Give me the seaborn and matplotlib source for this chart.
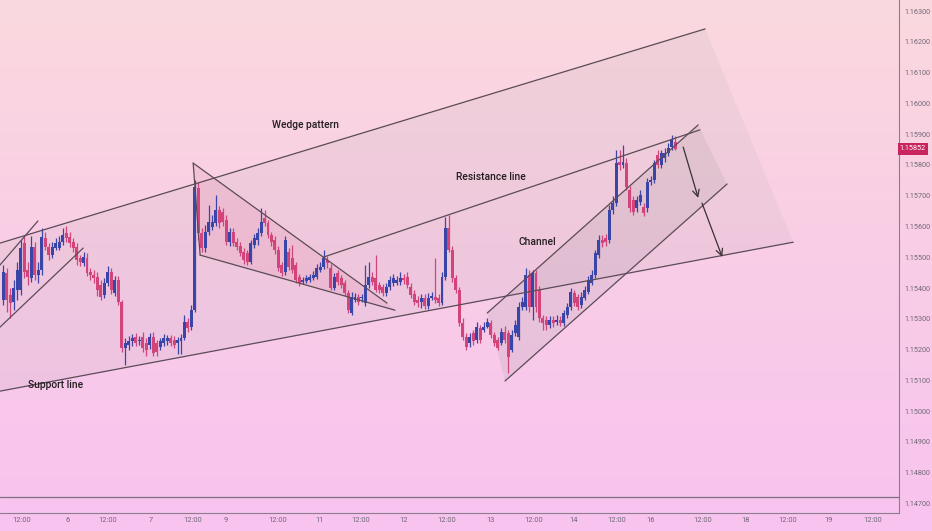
import numpy as np
import pandas as pd
import seaborn as sns
import matplotlib.pyplot as plt
from matplotlib.colors import LinearSegmentedColormap

# 1. 데이터 (hourly EURUSD-style candles)
opens = [
    1.15361, 1.15448, 1.15377, 1.15354, 1.15393, 1.15393, 1.15546, 1.15458, 1.15432, 1.15533,
    1.15442, 1.15458, 1.15562, 1.15533, 1.15507, 1.15530, 1.15530, 1.15549, 1.15578, 1.15565,
    1.15549, 1.15533, 1.15497, 1.15481, 1.15497, 1.15452, 1.15442, 1.15435, 1.15410, 1.15377,
    1.15416, 1.15452, 1.15383, 1.15426, 1.15354, 1.15205, 1.15215, 1.15228, 1.15241, 1.15228,
    1.15241, 1.15221, 1.15215, 1.15241, 1.15221, 1.15208, 1.15221, 1.15228, 1.15237, 1.15231,
    1.15221, 1.15228, 1.15237, 1.15289, 1.15273, 1.15328, 1.15725, 1.15578, 1.15530, 1.15582,
    1.15598, 1.15611, 1.15653, 1.15647, 1.15621, 1.15549, 1.15582, 1.15549, 1.15537, 1.15517,
    1.15513, 1.15484, 1.15540, 1.15556, 1.15578, 1.15628, 1.15611, 1.15572, 1.15556, 1.15523,
    1.15475, 1.15452, 1.15517, 1.15497, 1.15475, 1.15435, 1.15419, 1.15423, 1.15426, 1.15432,
    1.15435, 1.15458, 1.15468, 1.15491, 1.15465, 1.15400, 1.15448, 1.15432, 1.15416, 1.15383,
    1.15318, 1.15361, 1.15371, 1.15367, 1.15351, 1.15410, 1.15435, 1.15432, 1.15410, 1.15403,
    1.15383, 1.15403, 1.15416, 1.15416, 1.15419, 1.15432, 1.15435, 1.15403, 1.15380, 1.15361,
    1.15354, 1.15367, 1.15341, 1.15367, 1.15371, 1.15367, 1.15351, 1.15435, 1.15595, 1.15523,
    1.15432, 1.15393, 1.15286, 1.15241, 1.15221, 1.15254, 1.15231, 1.15270, 1.15263, 1.15273,
    1.15286, 1.15247, 1.15231, 1.15221, 1.15257, 1.15254, 1.15198, 1.15254, 1.15241, 1.15338,
    1.15338, 1.15442, 1.15338, 1.15448, 1.15393, 1.15302, 1.15296, 1.15280, 1.15296, 1.15289,
    1.15296, 1.15286, 1.15312, 1.15338, 1.15383, 1.15371, 1.15345, 1.15367, 1.15387, 1.15416,
    1.15442, 1.15507, 1.15556, 1.15562, 1.15556, 1.15653, 1.15676, 1.15809, 1.15800, 1.15806,
    1.15718, 1.15686, 1.15660, 1.15680, 1.15663, 1.15660, 1.15744, 1.15751, 1.15832, 1.15800,
    1.15822, 1.15839, 1.15858, 1.15875,
]
closes = [
    1.15452, 1.15361, 1.15351, 1.15400, 1.15458, 1.15530, 1.15452, 1.15435, 1.15533, 1.15442,
    1.15458, 1.15565, 1.15533, 1.15507, 1.15533, 1.15546, 1.15549, 1.15572, 1.15562, 1.15546,
    1.15530, 1.15491, 1.15484, 1.15500, 1.15448, 1.15442, 1.15432, 1.15393, 1.15371, 1.15416,
    1.15452, 1.15393, 1.15426, 1.15354, 1.15205, 1.15221, 1.15228, 1.15237, 1.15221, 1.15231,
    1.15205, 1.15198, 1.15241, 1.15188, 1.15192, 1.15228, 1.15237, 1.15237, 1.15221, 1.15215,
    1.15231, 1.15237, 1.15289, 1.15270, 1.15328, 1.15728, 1.15578, 1.15530, 1.15582, 1.15614,
    1.15614, 1.15653, 1.15611, 1.15614, 1.15549, 1.15582, 1.15546, 1.15533, 1.15513, 1.15491,
    1.15484, 1.15546, 1.15562, 1.15578, 1.15614, 1.15611, 1.15572, 1.15549, 1.15523, 1.15465,
    1.15448, 1.15556, 1.15468, 1.15458, 1.15426, 1.15416, 1.15426, 1.15432, 1.15435, 1.15442,
    1.15465, 1.15468, 1.15497, 1.15481, 1.15400, 1.15435, 1.15419, 1.15410, 1.15383, 1.15328,
    1.15371, 1.15371, 1.15354, 1.15371, 1.15410, 1.15435, 1.15419, 1.15393, 1.15393, 1.15383,
    1.15403, 1.15426, 1.15432, 1.15426, 1.15432, 1.15426, 1.15410, 1.15377, 1.15354, 1.15351,
    1.15367, 1.15341, 1.15367, 1.15374, 1.15361, 1.15351, 1.15435, 1.15595, 1.15523, 1.15432,
    1.15393, 1.15286, 1.15241, 1.15208, 1.15241, 1.15228, 1.15273, 1.15231, 1.15273, 1.15289,
    1.15247, 1.15221, 1.15205, 1.15257, 1.15231, 1.15175, 1.15247, 1.15280, 1.15338, 1.15354,
    1.15442, 1.15338, 1.15448, 1.15338, 1.15302, 1.15286, 1.15280, 1.15296, 1.15286, 1.15296,
    1.15286, 1.15318, 1.15338, 1.15387, 1.15351, 1.15338, 1.15371, 1.15393, 1.15426, 1.15442,
    1.15513, 1.15556, 1.15546, 1.15549, 1.15653, 1.15676, 1.15806, 1.15800, 1.15809, 1.15728,
    1.15660, 1.15647, 1.15686, 1.15702, 1.15644, 1.15744, 1.15751, 1.15806, 1.15800, 1.15839,
    1.15839, 1.15855, 1.15881, 1.15852,
]
highs = [
    1.15475, 1.15465, 1.15400, 1.15426, 1.15484, 1.15556, 1.15569, 1.15484, 1.15569, 1.15549,
    1.15484, 1.15595, 1.15582, 1.15546, 1.15549, 1.15562, 1.15569, 1.15595, 1.15602, 1.15582,
    1.15562, 1.15546, 1.15507, 1.15517, 1.15513, 1.15465, 1.15458, 1.15452, 1.15426, 1.15432,
    1.15472, 1.15465, 1.15439, 1.15439, 1.15361, 1.15237, 1.15244, 1.15250, 1.15254, 1.15244,
    1.15257, 1.15237, 1.15254, 1.15257, 1.15231, 1.15237, 1.15250, 1.15247, 1.15247, 1.15244,
    1.15241, 1.15250, 1.15312, 1.15302, 1.15345, 1.15751, 1.15744, 1.15595, 1.15605, 1.15670,
    1.15637, 1.15702, 1.15666, 1.15660, 1.15637, 1.15595, 1.15595, 1.15562, 1.15549, 1.15530,
    1.15523, 1.15556, 1.15575, 1.15595, 1.15660, 1.15653, 1.15621, 1.15582, 1.15569, 1.15537,
    1.15484, 1.15569, 1.15530, 1.15540, 1.15484, 1.15445, 1.15435, 1.15442, 1.15445, 1.15455,
    1.15478, 1.15484, 1.15523, 1.15504, 1.15478, 1.15448, 1.15458, 1.15442, 1.15426, 1.15393,
    1.15387, 1.15383, 1.15380, 1.15380, 1.15475, 1.15484, 1.15452, 1.15507, 1.15419, 1.15413,
    1.15416, 1.15439, 1.15445, 1.15439, 1.15452, 1.15445, 1.15452, 1.15416, 1.15393, 1.15374,
    1.15380, 1.15380, 1.15383, 1.15387, 1.15497, 1.15380, 1.15452, 1.15631, 1.15637, 1.15537,
    1.15442, 1.15403, 1.15302, 1.15254, 1.15254, 1.15263, 1.15289, 1.15280, 1.15289, 1.15302,
    1.15296, 1.15257, 1.15241, 1.15270, 1.15277, 1.15263, 1.15263, 1.15296, 1.15354, 1.15371,
    1.15465, 1.15458, 1.15458, 1.15458, 1.15407, 1.15312, 1.15309, 1.15309, 1.15309, 1.15312,
    1.15309, 1.15328, 1.15351, 1.15400, 1.15393, 1.15380, 1.15387, 1.15407, 1.15439, 1.15458,
    1.15523, 1.15572, 1.15572, 1.15575, 1.15670, 1.15699, 1.15848, 1.15848, 1.15865, 1.15822,
    1.15731, 1.15699, 1.15699, 1.15718, 1.15676, 1.15757, 1.15764, 1.15816, 1.15848, 1.15848,
    1.15855, 1.15871, 1.15897, 1.15894,
]
lows = [
    1.15345, 1.15322, 1.15302, 1.15328, 1.15361, 1.15377, 1.15432, 1.15410, 1.15419, 1.15426,
    1.15416, 1.15442, 1.15523, 1.15491, 1.15497, 1.15523, 1.15523, 1.15540, 1.15549, 1.15533,
    1.15517, 1.15475, 1.15472, 1.15472, 1.15439, 1.15426, 1.15416, 1.15374, 1.15361, 1.15367,
    1.15407, 1.15380, 1.15374, 1.15345, 1.15192, 1.15150, 1.15198, 1.15212, 1.15212, 1.15215,
    1.15192, 1.15179, 1.15202, 1.15179, 1.15179, 1.15198, 1.15212, 1.15215, 1.15212, 1.15205,
    1.15185, 1.15185, 1.15231, 1.15257, 1.15263, 1.15322, 1.15556, 1.15517, 1.15517, 1.15572,
    1.15588, 1.15602, 1.15595, 1.15602, 1.15540, 1.15537, 1.15537, 1.15523, 1.15504, 1.15478,
    1.15475, 1.15478, 1.15530, 1.15540, 1.15569, 1.15602, 1.15562, 1.15537, 1.15510, 1.15455,
    1.15439, 1.15442, 1.15458, 1.15448, 1.15416, 1.15407, 1.15413, 1.15416, 1.15419, 1.15426,
    1.15429, 1.15452, 1.15461, 1.15465, 1.15393, 1.15393, 1.15410, 1.15400, 1.15374, 1.15318,
    1.15312, 1.15354, 1.15345, 1.15354, 1.15341, 1.15400, 1.15410, 1.15387, 1.15383, 1.15374,
    1.15374, 1.15393, 1.15407, 1.15410, 1.15410, 1.15413, 1.15400, 1.15367, 1.15345, 1.15338,
    1.15335, 1.15331, 1.15331, 1.15361, 1.15351, 1.15341, 1.15345, 1.15426, 1.15517, 1.15419,
    1.15383, 1.15277, 1.15231, 1.15198, 1.15208, 1.15215, 1.15221, 1.15221, 1.15257, 1.15270,
    1.15237, 1.15212, 1.15198, 1.15215, 1.15221, 1.15123, 1.15192, 1.15244, 1.15231, 1.15328,
    1.15328, 1.15322, 1.15296, 1.15322, 1.15289, 1.15263, 1.15263, 1.15270, 1.15273, 1.15280,
    1.15277, 1.15277, 1.15302, 1.15328, 1.15341, 1.15328, 1.15335, 1.15361, 1.15380, 1.15410,
    1.15432, 1.15497, 1.15533, 1.15537, 1.15546, 1.15640, 1.15666, 1.15783, 1.15790, 1.15718,
    1.15647, 1.15637, 1.15647, 1.15670, 1.15634, 1.15647, 1.15735, 1.15741, 1.15790, 1.15790,
    1.15809, 1.15829, 1.15848, 1.15848,
]

# x axis labels (bar index of each label)
tick_labels = ["12:00", "6", "12:00", "7", "12:00", "9", "12:00", "11", "12:00", "12", "12:00",
               "13", "12:00", "14", "12:00", "16", "12:00", "18", "12:00", "19", "12:00"]
tick_pos = [6.3, 19.3, 31.0, 43.4, 55.5, 64.9, 79.9, 91.7, 103.7, 116.1, 128.2,
            140.8, 153.4, 164.9, 177.3, 186.8, 202.0, 214.1, 226.4, 238.2, 250.6]
price_ticks = [1.147, 1.148, 1.149, 1.150, 1.151, 1.152, 1.153, 1.154, 1.155,
               1.156, 1.157, 1.158, 1.159, 1.160, 1.161, 1.162, 1.163]
last_price = 1.15852

# 추세선 (bar index, price)
trend_lines = {
    "wedge_top": [(0, 1.15546), (202.6, 1.16242)],
    "support": [(0, 1.15065), (227.9, 1.15549)],
    "resistance": [(92.8, 1.15500), (201.1, 1.15914)],
    "flag_top": [(55.5, 1.15806), (111.2, 1.15351)],
    "flag_bottom": [(57.5, 1.15507), (113.5, 1.15328)],
    "flag_side": [(55.5, 1.15806), (57.5, 1.15507)],
    "left_top": [(0, 1.15475), (10.9, 1.15618)],
    "left_bottom": [(0, 1.15273), (23.9, 1.15530)],
    "chan_top": [(140.0, 1.15319), (200.6, 1.15930)],
    "chan_bottom": [(145.1, 1.15098), (208.9, 1.15738)],
}
wedge_area = [(0, 1.15546), (202.6, 1.16242), (227.9, 1.15549), (0, 1.15065)]
channel_area = [(140.0, 1.15319), (200.6, 1.15930), (208.9, 1.15738), (145.1, 1.15098)]
flag_area = [(55.5, 1.15806), (111.2, 1.15351), (113.5, 1.15328), (57.5, 1.15507)]
arrows = [((196.3, 1.15858), (200.6, 1.15693)), ((201.7, 1.15676), (207.5, 1.15501))]
notes = [("Wedge pattern", 78.2, 1.15930), ("Resistance line", 131.0, 1.15761),
         ("Channel", 149.1, 1.15550), ("Support line", 8.0, 1.15085)]

df = pd.DataFrame({"open": opens, "high": highs, "low": lows, "close": closes})
df["t"] = np.arange(1, len(df) + 1)
df["up"] = df["close"] >= df["open"]

lines_df = pd.DataFrame(
    [(name, x, y) for name, pts in trend_lines.items() for x, y in pts],
    columns=["seg", "x", "price"],
)

# 2. 그리기
sns.set_theme(style="white")
plt.rcParams["font.family"] = ["Roboto", "DejaVu Sans"]

fig = plt.figure(figsize=(9.32, 5.31), dpi=100)

bg = fig.add_axes([0, 0, 1, 1], zorder=0)
cmap = LinearSegmentedColormap.from_list("bg", ["#fbd9df", "#f9cde6", "#f8c3f0"])
bg.imshow(np.linspace(0, 1, 256).reshape(-1, 1), aspect="auto", cmap=cmap,
          extent=[0, 1, 0, 1], origin="upper")
bg.axis("off")

ax = fig.add_axes([0, 18 / 531, 899 / 932, 513 / 531], zorder=1)
ax.patch.set_alpha(0)

# shaded areas
ax.fill(*zip(*wedge_area), color="#9a9a9a", alpha=0.10, lw=0)
ax.fill(*zip(*channel_area), color="#8c8c8c", alpha=0.14, lw=0)
ax.fill(*zip(*flag_area), color="#e07898", alpha=0.16, lw=0)

# candles
bull, bear = "#3a45a8", "#d2447a"
colors = np.where(df["up"], bull, bear)
ax.vlines(df["t"], df["low"], df["high"], colors=colors, lw=0.9, zorder=3)
body = (df["close"] - df["open"]).abs().clip(lower=0.00003)
ax.bar(df["t"], body, bottom=df[["open", "close"]].min(axis=1), width=0.85,
       color=colors, lw=0, zorder=4)

sns.lineplot(data=lines_df, x="x", y="price", units="seg", estimator=None, sort=False,
             color="#5b4b57", lw=0.9, ax=ax, zorder=5)

for (x0, y0), (x1, y1) in arrows:
    ax.annotate("", xy=(x1, y1), xytext=(x0, y0), zorder=6,
                arrowprops=dict(arrowstyle="->", color="#3a3036", lw=0.9, mutation_scale=12,
                                shrinkA=0, shrinkB=0))

for txt, x, y in notes:
    ax.text(x, y, txt, fontsize=7.4, fontweight="medium", color="#241d20",
            ha="left", va="center", zorder=7)

# bottom border line
ax.axhline(1.14721, color="#7d6f80", lw=0.9, zorder=2)

# 디자인 정돈
ax.set_xlim(0, 258.3)
ax.set_ylim(1.14669, 1.16336)
ax.yaxis.tick_right()
ax.set_yticks(price_ticks)
ax.set_yticklabels([f"{p:.5f}" for p in price_ticks])
ax.set_xticks(tick_pos)
ax.set_xticklabels(tick_labels)
ax.tick_params(axis="y", length=0, pad=4, labelsize=5.2, labelcolor="#6f6874")
ax.tick_params(axis="x", length=0, pad=3, labelsize=5.4, labelcolor="#6f6874")
for side in ["top", "left"]:
    ax.spines[side].set_visible(False)
for side in ["bottom", "right"]:
    ax.spines[side].set_color("#8a7d8c")
    ax.spines[side].set_linewidth(0.8)
ax.set_xlabel("")
ax.set_ylabel("")

ax.text(1.0 + 14 / 899, last_price, f"{last_price:.5f}", transform=ax.get_yaxis_transform(),
        fontsize=5.2, color="white", ha="center", va="center", zorder=8, clip_on=False,
        bbox=dict(boxstyle="square,pad=0.3", fc="#c8245e", ec="none"))

fig.savefig("out.png", dpi=100)
